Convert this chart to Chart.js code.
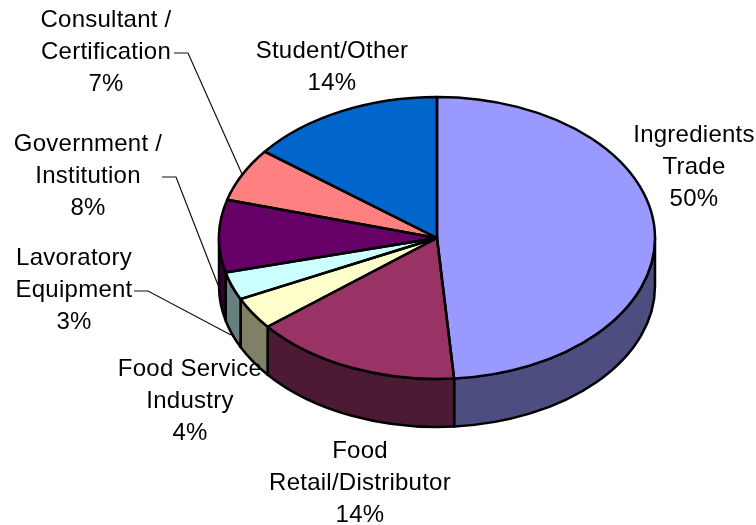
<!DOCTYPE html>
<html lang="en">
<head>
    <meta charset="UTF-8">
    <title>Pie chart</title>
    <style>
        body { margin: 0; background: #fff; }
        canvas { display: block; }
    </style>
    <script src="https://cdn.jsdelivr.net/npm/chart.js"></script>
</head>
<body>
    <canvas id="pie" width="756" height="525"></canvas>
    <script>
        const categories = ['Ingredients Trade', 'Food Retail/Distributor', 'Food Service Industry',
            'Lavoratory Equipment', 'Government / Institution', 'Consultant / Certification', 'Student/Other'];
        // the printed percentages
        const percentLabels = ['50%', '14%', '4%', '3%', '8%', '7%', '14%'];
        // slice sizes as they appear on the picture (perspective shifts them from the printed ones)
        const sliceValues = [48.7, 15.4, 3.7, 3.2, 8.3, 6.1, 14.5];
        const labelLines = [
            ['Ingredients', 'Trade'],
            ['Food', 'Retail/Distributor'],
            ['Food Service', 'Industry'],
            ['Lavoratory', 'Equipment'],
            ['Government /', 'Institution'],
            ['Consultant /', 'Certification'],
            ['Student/Other']
        ];
        const topColors = ['#9999FF', '#993366', '#FFFFCC', '#CCFFFF', '#660066', '#FF8080', '#0066CC'];
        const sideColors = ['#4D4D80', '#4D1A33', '#808066', '#668080', '#330033', '#804040', '#003366'];

        const squash = 141 / 218;  // ellipse height / width
        const depth = 48;

        const labelPos = [[694, 135], [360, 451], [190, 369], [74, 258], [88, 144], [106, 20], [332, 51]];
        const leaders = [
            [[174, 53], [188, 53], [242, 174]],
            [[162, 177], [176, 177], [218, 285]],
            [[134, 291], [148, 291], [231, 335]]
        ];

        function squashed(ctx, cy, build) {
            ctx.save();
            ctx.translate(0, cy);
            ctx.scale(1, squash);
            ctx.translate(0, -cy);
            build();
            ctx.restore();
        }

        const pie3d = {
            id: 'pie3d',
            beforeDatasetsDraw(chart) {
                const ctx = chart.ctx;
                const arcs = chart.getDatasetMeta(0).data;
                ctx.save();
                ctx.lineWidth = 2.5;
                ctx.strokeStyle = '#000';
                ctx.lineJoin = 'round';
                arcs.forEach((arc, i) => {
                    // only the front half of the rim is visible
                    const a = Math.max(arc.startAngle, 0);
                    const b = Math.min(arc.endAngle, Math.PI);
                    if (b <= a) return;
                    squashed(ctx, arc.y, () => {
                        ctx.beginPath();
                        ctx.arc(arc.x, arc.y, arc.outerRadius, a, b);
                        ctx.arc(arc.x, arc.y + depth / squash, arc.outerRadius, b, a, true);
                        ctx.closePath();
                    });
                    ctx.fillStyle = sideColors[i];
                    ctx.fill();
                    ctx.stroke();
                });
                ctx.restore();
                ctx.save();
                ctx.translate(0, arcs[0].y);
                ctx.scale(1, squash);
                ctx.translate(0, -arcs[0].y);
            },
            afterDatasetsDraw(chart) {
                const ctx = chart.ctx;
                ctx.restore();
                const arcs = chart.getDatasetMeta(0).data;
                ctx.save();
                ctx.lineWidth = 2.5;
                ctx.strokeStyle = '#000';
                ctx.lineJoin = 'round';
                arcs.forEach(arc => {
                    squashed(ctx, arc.y, () => {
                        ctx.beginPath();
                        ctx.moveTo(arc.x, arc.y);
                        ctx.arc(arc.x, arc.y, arc.outerRadius, arc.startAngle, arc.endAngle);
                        ctx.closePath();
                    });
                    ctx.stroke();
                });
                ctx.restore();

                // leader lines
                ctx.save();
                ctx.lineWidth = 1.2;
                ctx.strokeStyle = '#111';
                leaders.forEach(pts => {
                    ctx.beginPath();
                    pts.forEach((p, i) => i ? ctx.lineTo(p[0], p[1]) : ctx.moveTo(p[0], p[1]));
                    ctx.stroke();
                });
                ctx.restore();

                // data labels
                ctx.save();
                ctx.font = '24px "Liberation Sans", Arial, sans-serif';
                ctx.letterSpacing = '0.25px';
                ctx.fillStyle = '#000';
                ctx.textAlign = 'center';
                ctx.textBaseline = 'middle';
                labelLines.forEach((lines, i) => {
                    const all = lines.concat(percentLabels[i]);
                    all.forEach((t, j) => ctx.fillText(t, labelPos[i][0], labelPos[i][1] + j * 32));
                });
                ctx.restore();
            }
        };

        new Chart(document.getElementById('pie'), {
            type: 'pie',
            data: {
                labels: categories,
                datasets: [{
                    data: sliceValues,
                    backgroundColor: topColors,
                    borderWidth: 0
                }]
            },
            options: {
                responsive: false,
                animation: false,
                events: [],
                layout: { padding: { left: 219, right: 101, top: 20, bottom: 69 } },
                plugins: { legend: { display: false }, tooltip: { enabled: false } }
            },
            plugins: [pie3d]
        });
    </script>
</body>
</html>
